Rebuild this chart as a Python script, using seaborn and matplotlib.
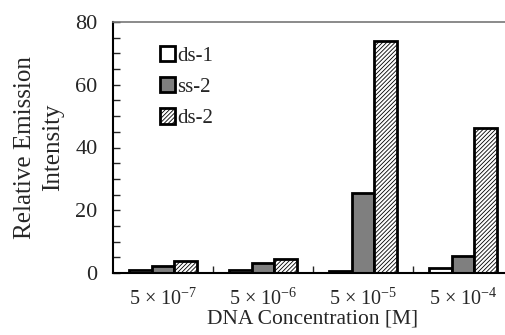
import matplotlib
matplotlib.use("Agg")
import matplotlib.pyplot as plt
import seaborn as sns
import pandas as pd
from matplotlib.ticker import MultipleLocator, FixedLocator
from matplotlib.patches import Patch

concentrations = ["5 × 10$^{-7}$", "5 × 10$^{-6}$", "5 × 10$^{-5}$", "5 × 10$^{-4}$"]
series = ["ds-1", "ss-2", "ds-2"]
ds1 = [0.8, 0.8, 0.5, 1.7]
ss2 = [2.1, 3.2, 25.6, 5.3]
ds2 = [3.7, 4.5, 74.1, 46.3]

rows = []
for name, vals in zip(series, [ds1, ss2, ds2]):
    for c, v in zip(concentrations, vals):
        rows.append({"conc": c, "series": name, "value": v})
df = pd.DataFrame(rows)

sns.set_style("ticks")
plt.rcParams["font.family"] = ["Liberation Serif", "DejaVu Serif"]
plt.rcParams["mathtext.fontset"] = "custom"
plt.rcParams["mathtext.rm"] = "Liberation Serif"
plt.rcParams["mathtext.it"] = "Liberation Serif:italic"
plt.rcParams["mathtext.default"] = "rm"
plt.rcParams["hatch.linewidth"] = 0.6

fig = plt.figure(figsize=(5.06, 3.35), dpi=100)
ax = fig.add_axes([113/506, 1-273/335, 400/506, 251/335])

face = {"ds-1": "white", "ss-2": "#7f7f7f", "ds-2": "white"}
sns.barplot(data=df, x="conc", y="value", hue="series", hue_order=series,
            order=concentrations, palette=face, width=0.675, ax=ax,
            edgecolor="black", linewidth=2, saturation=1, legend=False)

hatches = {"ds-1": "", "ss-2": "", "ds-2": "////////"}
for cont, name in zip(ax.containers, series):
    for p in cont:
        p.set_hatch(hatches[name])
        p.set_edgecolor("black")
        p.set_linewidth(2)

ax.set_xlim(-0.5, 3.5)
ax.set_ylim(0, 80)
ax.yaxis.set_major_locator(MultipleLocator(20))
ax.yaxis.set_minor_locator(MultipleLocator(5))
ax.tick_params(axis="y", which="both", direction="in", length=5, width=1, labelsize=16, pad=11)
ax.xaxis.set_minor_locator(FixedLocator([0.5, 1.5, 2.5]))
ax.tick_params(axis="x", which="major", length=0, labelsize=14.5, pad=11)
ax.tick_params(axis="x", which="minor", direction="in", length=5, width=1)

for s in ["left", "bottom"]:
    ax.spines[s].set_linewidth(1.5)
    ax.spines[s].set_color("black")
ax.spines["top"].set_color("#777777")
ax.spines["top"].set_linewidth(1.2)
ax.spines["right"].set_visible(False)

ax.set_xlabel("DNA Concentration [M]", fontsize=15.5, labelpad=0)
ax.set_ylabel("Relative Emission\nIntensity", fontsize=18, labelpad=8, linespacing=1.35)

handles = [Patch(facecolor=face[n], edgecolor="black", linewidth=2, hatch=hatches[n]) for n in series]
ax.legend(handles, series, frameon=False, loc="upper left", bbox_to_anchor=(0.07, 0.98),
          handlelength=0.75, handleheight=0.75, handletextpad=0.1, labelspacing=0.55,
          fontsize=15)

fig.savefig("out.png", dpi=100)
